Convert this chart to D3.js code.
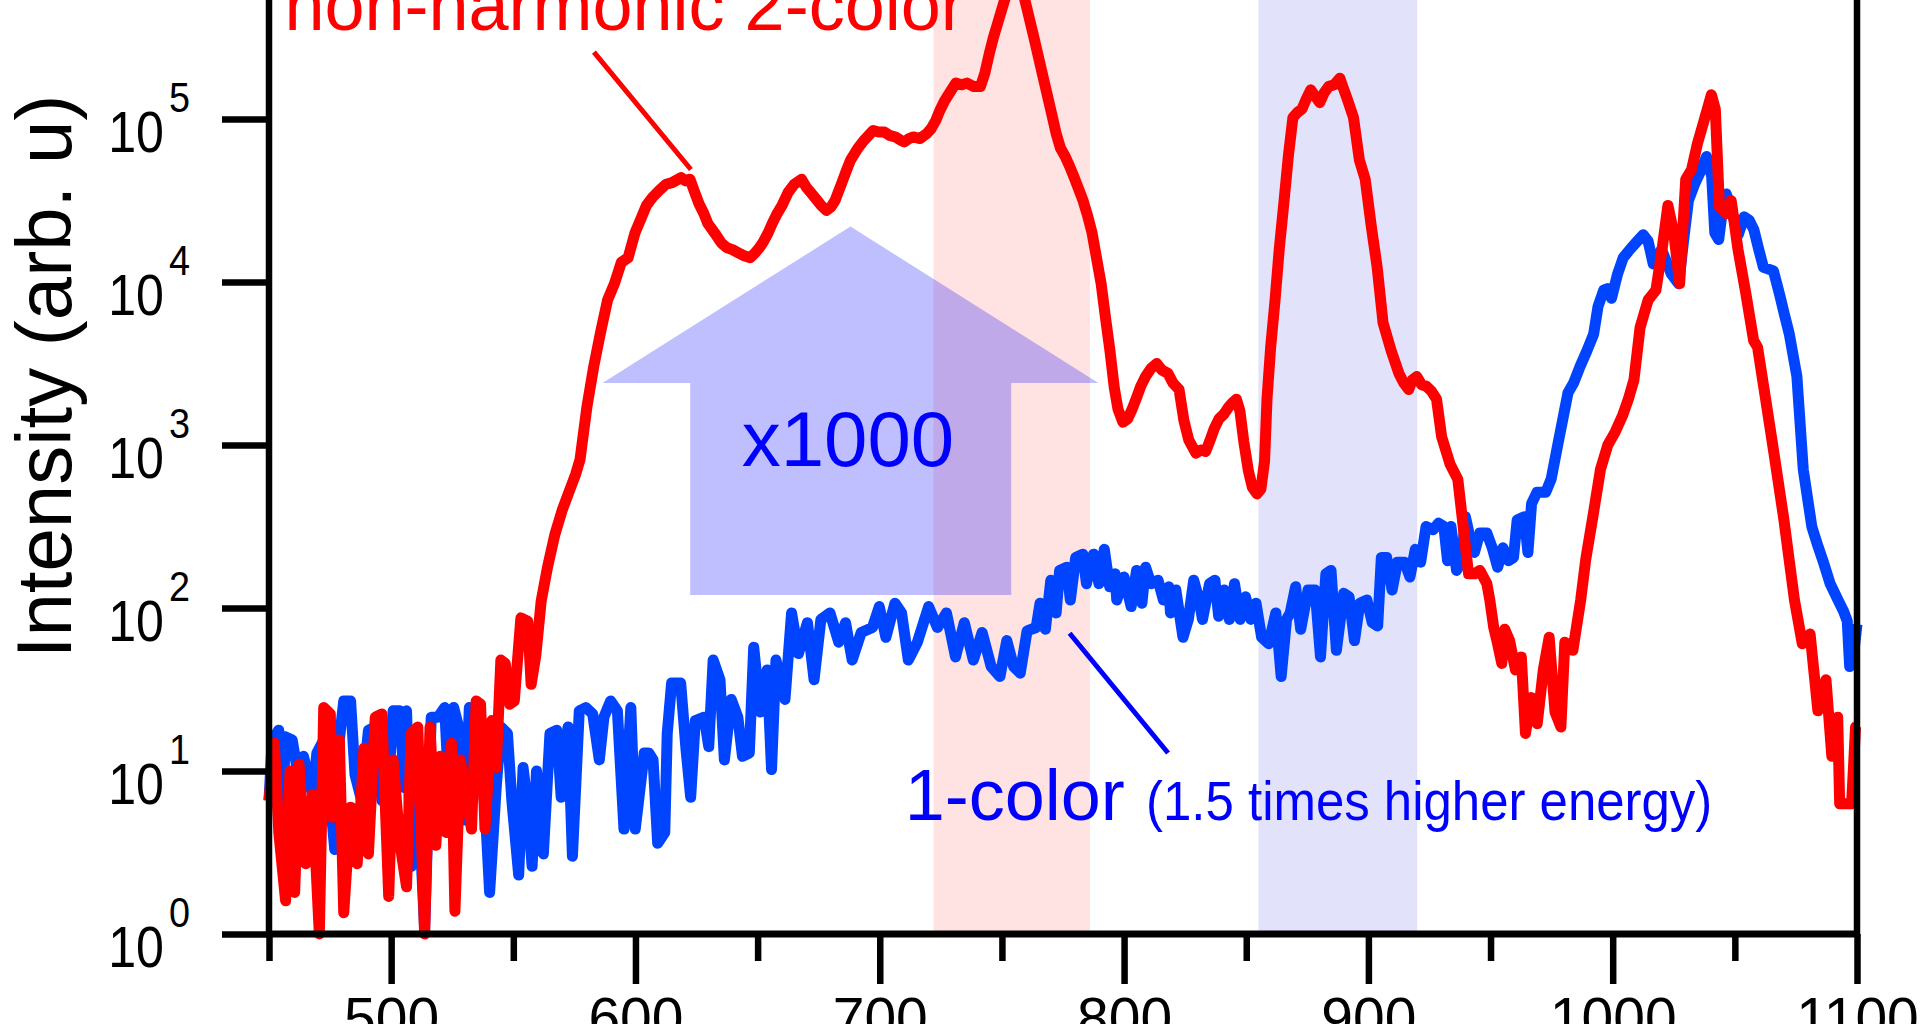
<!DOCTYPE html>
<html>
<head>
<meta charset="utf-8">
<script src="https://cdn.jsdelivr.net/npm/d3@7"></script>
<style>
  html, body { margin: 0; padding: 0; background: #ffffff; }
  svg { display: block; }
  text { font-family: "Liberation Sans", Arial, Helvetica, sans-serif; }
</style>
</head>
<body>
<svg id="chart" width="1920" height="1024"></svg>
<script>
// ---------------- DATA ----------------
// Photon energy axis (x) and intensity (arb. u, log scale) for the non-harmonic 2-color spectrum
const redX = [450,452.2,454,456.8,458.6,460.5,462.3,465,467.8,470.6,472.4,475.1,476,478.8,480.6,483.4,486.1,488.9,490.7,493.5,496.2,499,500.8,503.6,506.3,508.2,510.9,513.7,515.9,518.3,520.1,522.5,524.7,526.1,528.3,531.1,532.9,534.8,536.6,538.4,541.2,543,544.9,546.7,548.5,550.4,553.1,555.9,557.3,559.2,561.4,564,567,570,573,575.5,577.3,580.1,582.9,585.7,588.6,591.4,594.2,597,599.8,602,604.5,607,609.6,612.5,615,618.7,620.5,622.3,624,626,628,629.6,632.4,635.1,637.5,639.7,642,644.5,647,649,650.7,652.5,654.3,656,658,660,662.5,665,668,670,671.7,674.4,676,678.1,680,681.7,684.5,686.5,688.1,691,693.6,697.3,699.5,701.9,704,706.4,708.5,710.1,712,713.7,716.5,719.2,721,722.9,724.5,726.5,729,731.1,733.5,735.7,738.5,741.2,743,744.8,746.5,748.5,750.5,752.1,755.5,759.4,763.1,766.8,770.4,772.2,774,775.9,777.7,779.6,781.4,783.2,785,786.9,788.7,790.6,792.4,794.2,796,797.5,799.5,801.5,803.3,805.1,806.8,808.8,811,813.4,815.5,818,820,822.5,824.5,826.5,829.4,831.5,833.4,835,836.9,838.9,840.9,842.7,844.4,846,847.4,849,850.9,852.5,854.4,856,857.5,858.5,860,861.8,863.5,865.5,867.3,869.1,871,872.8,874.5,876.4,878.2,880.1,881.9,883.7,886,888.3,890,891.4,893.9,896.3,898.7,901.2,903.6,906,909.3,912.5,914.5,916.5,918,919.8,921.8,923.8,925.8,927.9,930,933.5,936.6,938.2,941,943.5,945.6,948.5,949.7,951.3,952.9,954.6,955.8,957.8,960.2,962.6,964.3,966.7,969.1,971.6,974,976.4,978.8,980.4,983.7,986.9,989,992,995,998,1001,1004,1006.4,1008.7,1011.2,1014.5,1017.7,1020.2,1022.6,1025,1027.4,1029.9,1032.3,1034.7,1037.2,1040.4,1042,1043.7,1046.4,1048.5,1051.3,1054.5,1057.7,1059.3,1062.6,1066,1070,1074.4,1077.6,1080.8,1084,1087.3,1089.7,1092.1,1092.9,1097.8,1099.4,1100];
const redY = [6.6,14.8,4.2,1.6,10,1.8,11,2.7,7.2,1,24.5,22.4,5.2,15.5,1.35,6.0,2.7,13.8,3.1,21.4,22.4,1.7,11.7,3.6,1.95,17,18.6,1,18.6,3.5,12.3,4.2,14.8,1.38,11.7,6.6,4.4,26.9,25.7,4.4,20.4,10.5,47.9,45.7,25.7,26.9,87,83,34,51,110,178,282,398,525,661,813,1700,3020,4900,7760,9770,13200,14100,20000,24000,29500,33100,36300,39800,40700,43700,41700,42700,36300,30200,26300,22900,20000,17400,16200,15800,15100,14500,14100,15100,16200,17800,20000,22900,26300,29500,35500,39800,42700,38000,35500,31600,29500,27500,28800,31600,40700,49000,56200,66100,74100,85100,83200,83200,79400,77600,74100,72400,75900,77600,75900,81300,87100,97700,112000,129000,148000,166000,162000,166000,158000,158000,191000,251000,316000,398000,501000,603000,891000,537000,316000,182000,107000,81300,66100,58900,51300,43700,37200,31600,25700,20000,14100,9770,6030,3800,2240,1660,1380,1450,1660,1950,2290,2630,2950,3160,2880,2750,2400,2190,1410,1070,891,933,912,1050,1260,1450,1550,1700,1820,1910,1620,1050,692,550,501,537,794,1910,3980,7760,15800,31600,60300,102000,110000,115000,132000,151000,138000,126000,145000,158000,162000,178000,151000,132000,102000,56200,42700,21900,12300,5620,3800,2750,2400,2190,2510,2630,2340,2290,2140,1910,1120,759,617,380,162,162,170,141,112,75.9,60.3,45.7,74.1,63,41.7,50.1,17,28.2,19.5,41.7,66.1,23,18.6,61.7,55,112,200,372,708,1000,1200,1510,1910,2510,5250,7760,8910,15800,29500,20000,9770,42700,49000,70800,95500,141000,115000,28800,26300,31600,15800,8510,4370,3980,1910,891,355,112,60.3,69.2,23.4,36.3,12.3,21.4,6.3,6.3,18.6,19];

// 1-color spectrum (1.5 times higher energy)
const blueX = [450,451.3,454,455,456.8,459.5,461.4,464.1,467.8,469.6,472.4,475.1,476.9,478.8,480.6,483.4,485.2,487.9,490.7,493.5,496.2,499,500.8,503.6,505.4,506.3,508.2,510.9,513.7,516.4,519.2,521.9,523.8,525.6,528.3,530.2,532,533.9,536.6,539,540.3,543,544.9,547.6,549.4,552.2,554,555.9,557.7,559.5,562.3,565,567.8,569.6,572.4,574.2,577,579.7,582.5,585.2,587.1,589.8,592.6,595.3,598.1,599.9,603.6,605.5,607.2,609.1,612,613,614.8,618.5,620.7,622.6,624.5,628.1,630,631.8,634.6,636.4,639.2,641.9,643.8,646.6,648.4,651.1,653.9,655.7,657.5,661.2,663.9,666.7,670.4,673.1,675.9,679.6,683.2,686,688.7,692.4,697,699.8,702.5,706.2,708.9,711.7,715.4,720,723.6,727.3,731,734.6,738.3,741.9,745.6,749.2,752,754.8,757.5,760.3,764,765.6,767.8,770,772.2,773.6,776.5,778,780.2,783.1,784.6,787.5,789.7,791.9,794.1,796.3,797,800,802.9,805.1,807.3,808.8,811,813.9,816.1,818.3,819,821.2,824.1,826.3,828.5,830.7,832.1,835,837.2,838.7,840.9,843.1,845.2,847.5,849.7,851.9,854,856.3,859.2,862.1,864.3,866.5,868,870.2,872.3,875.3,878.2,880.4,882.6,884.7,886.9,889.9,892.1,894.3,896.5,899.4,901.6,903.8,905.3,907.5,909.7,911.9,914.8,917,919.2,921.4,923.6,926.5,928.7,930.9,932.4,933.8,936.1,938.2,939.7,941.2,943.4,945.6,948.5,950.7,952.9,955.1,957.3,959.4,960.9,963.8,965.3,966.8,969,972.6,974.8,977.5,981.7,984,986.6,989.5,992.2,994,996.3,998,999.5,1002,1004.3,1007,1009.5,1012.5,1014.5,1016.6,1020,1024,1027,1029,1031,1033.5,1036,1038.4,1040.5,1041.8,1043.4,1045,1046.5,1049,1051.4,1053.8,1055.8,1057.8,1059.8,1061.7,1063.8,1065.8,1068.2,1070.3,1072.3,1075.4,1078,1081.5,1084,1086.5,1089,1092.2,1094.5,1096,1097,1098.5,1100];
const blueY = [6.6,15.5,17.8,4.2,16.2,15.5,10.5,12.3,7.2,12.9,15.5,6.6,3.3,15.5,26.9,26.9,9.5,6.6,17.8,18.6,6.6,8.7,23.4,23.4,7.9,23.4,2.6,7.9,1.07,21.4,21.4,24.5,6.6,24.5,17,5,24.5,7.9,14.1,4.2,1.8,7.9,18.6,17,6.6,2.3,10.5,6.0,2.6,10,3.1,17,17.8,6.9,18.6,3.0,23.4,24.5,22.4,11.7,21.4,26.9,23.4,4.4,24.5,4.4,12.9,12.9,11.7,3.6,4.2,17,34.7,34.7,13.5,6.9,20.4,21.4,14.1,47.9,36.3,11.7,27.5,21.4,12.3,12.9,57.5,23,41.7,10.2,47.9,27.5,93.3,52.5,81.3,36.3,85.1,93.3,61.7,81.3,47.9,70.8,75.9,102,66.1,107,93.3,47.9,61.7,102,75.9,93.3,50.1,81.3,47.9,70.8,43.7,38,63.1,43.7,39.8,72.4,75.9,107,74.1,148,93.3,170,178,112,204,214,141,214,141,229,135,162,112,155,102,170,107,178,141,148,112,135,93.3,129,66.1,85.1,148,112,85.1,141,148,89.1,129,85.1,141,85.1,117,85.1,107,66.1,60.3,93.3,38,85.1,93.3,135,74.1,129,129,50.1,162,170,55,123,117,63.1,107,112,81.3,77.6,204,204,129,191,191,155,229,191,316,302,331,316,195,316,170,195,363,288,219,288,288,234,178,234,195,204,347,363,219,437,513,513,617,1000,2090,2400,3020,3800,4790,7080,8910,9120,7940,11200,14100,15800,17400,19500,17800,12900,15800,11200,9770,17800,31600,39800,47900,58900,44700,20000,18200,28200,34700,26300,19500,25100,24000,20900,15800,12300,12000,11700,8510,6310,4790,2630,708,316,240,186,141,112,95.5,83.2,43.7,50.1,79.4];

// Axis ticks and labels
const xMajorTicks = [500, 600, 700, 800, 900, 1000, 1100];
const xMinorTicks = [450, 550, 650, 750, 850, 950, 1050];
const yTickExponents = [0, 1, 2, 3, 4, 5];
const yTitle = "Intensity (arb. u)";

// Highlighted energy windows
const pinkBand = [722, 786];
const blueBand = [855, 920];

// Annotations (in data coordinates: [x, intensity])
const redLabel = { text: "non-harmonic 2-color", x: 456.3, y: 351000 };
const redPointer = [[583, 257000], [622.7, 49000]];
const blueLabel = { text: "1-color", x: 710.2, y: 5.0 };
const blueLabelSmall = { text: "(1.5 times higher energy)", x: 809, y: 5.0 };
const bluePointer = [[777.7, 70], [818, 12.9]];
const arrowTip = [688, 21900];
const arrowHead = [586.5, 789.5, 2400];   // left x, right x, base intensity
const arrowShaft = [622.4, 753.8, 120];   // left x, right x, bottom intensity
const arrowText = { text: "x1000", x: 687, y: 741 };

// ---------------- DRAWING ----------------
const svg = d3.select("#chart");
svg.append("rect").attr("width", 1920).attr("height", 1024).attr("fill", "#ffffff");

const x = d3.scaleLinear().domain([450, 1100]).range([269, 1857]);
const y = d3.scaleLog().domain([1, 1e5]).range([934, 119]);
const yTop = -10;

// condensed-looking text helper (original figure font is slightly narrow)
function squeezedText(px, py, str, size, sx, color, anchor) {
  return svg.append("text")
    .attr("transform", `translate(${px},${py}) scale(${sx},1)`)
    .attr("text-anchor", anchor || "start")
    .attr("font-size", size).attr("fill", color)
    .text(str);
}

// bands
[[pinkBand, "#ffe2e2"], [blueBand, "#e2e2fa"]].forEach(([b, c]) => {
  svg.append("rect")
    .attr("x", x(b[0])).attr("width", x(b[1]) - x(b[0]))
    .attr("y", yTop).attr("height", y(1) - yTop)
    .attr("fill", c);
});

// big arrow
const arrowPts = [
  [x(arrowTip[0]), y(arrowTip[1])],
  [x(arrowHead[1]), y(arrowHead[2])],
  [x(arrowShaft[1]), y(arrowHead[2])],
  [x(arrowShaft[1]), y(arrowShaft[2])],
  [x(arrowShaft[0]), y(arrowShaft[2])],
  [x(arrowShaft[0]), y(arrowHead[2])],
  [x(arrowHead[0]), y(arrowHead[2])]
];
svg.append("polygon")
  .attr("points", arrowPts.map(p => p.join(",")).join(" "))
  .attr("fill", "rgba(0,0,255,0.25)");

svg.append("text")
  .attr("x", x(arrowText.x)).attr("y", y(arrowText.y))
  .attr("text-anchor", "middle")
  .attr("font-size", 78).attr("fill", "#0000ff")
  .text(arrowText.text);

// curves
const line = d3.line().x(d => x(d[0])).y(d => y(d[1]));
const blueData = blueX.map((v, i) => [v, blueY[i]]);
const redData = redX.map((v, i) => [v, redY[i]]);

svg.append("path").datum(blueData)
  .attr("d", line).attr("fill", "none")
  .attr("stroke", "#0044ff").attr("stroke-width", 11)
  .attr("stroke-linejoin", "round");
svg.append("path").datum(redData)
  .attr("d", line).attr("fill", "none")
  .attr("stroke", "#ff0000").attr("stroke-width", 11)
  .attr("stroke-linejoin", "round");

// axes
const axisW = 6.5;
// y ticks
const yAxis = svg.append("g").attr("transform", `translate(${x(450)},0)`)
  .call(d3.axisLeft(y).tickValues(yTickExponents.map(e => Math.pow(10, e))).tickSize(47).tickFormat(""));
yAxis.select(".domain").remove();
yAxis.selectAll(".tick line").attr("stroke", "#000").attr("stroke-width", axisW);

// y tick labels with exponent
yTickExponents.forEach(e => {
  const ty = y(Math.pow(10, e));
  squeezedText(164, ty + 33, "10", 57, 0.88, "#000", "end");
  squeezedText(169, ty - 7, String(e), 42, 0.9, "#000", "start");
});

// x ticks
const xAxisMajor = svg.append("g").attr("transform", `translate(0,${y(1)})`)
  .call(d3.axisBottom(x).tickValues(xMajorTicks).tickSize(50).tickPadding(14).tickFormat(d3.format("d")));
xAxisMajor.select(".domain").remove();
xAxisMajor.selectAll(".tick line").attr("stroke", "#000").attr("stroke-width", axisW);
xAxisMajor.selectAll(".tick text")
  .attr("font-size", 57).attr("fill", "#000")
  .attr("font-family", "'Liberation Sans', Arial, sans-serif");

const xAxisMinor = svg.append("g").attr("transform", `translate(0,${y(1)})`)
  .call(d3.axisBottom(x).tickValues(xMinorTicks).tickSize(27).tickFormat(""));
xAxisMinor.select(".domain").remove();
xAxisMinor.selectAll(".tick line").attr("stroke", "#000").attr("stroke-width", axisW);

// axis lines (left, bottom, right)
svg.append("line").attr("x1", x(450)).attr("x2", x(450)).attr("y1", y(1) + 3).attr("y2", yTop)
  .attr("stroke", "#000").attr("stroke-width", axisW);
svg.append("line").attr("x1", x(1100)).attr("x2", x(1100)).attr("y1", y(1) + 3).attr("y2", yTop)
  .attr("stroke", "#000").attr("stroke-width", axisW);
svg.append("line").attr("x1", x(450) - 3).attr("x2", x(1100) + 3).attr("y1", y(1)).attr("y2", y(1))
  .attr("stroke", "#000").attr("stroke-width", 7);

// y title
svg.append("text")
  .attr("transform", `translate(71,${(y(1e5) + y(1)) / 2 - 150}) rotate(-90)`)
  .attr("text-anchor", "middle").attr("font-size", 78).attr("fill", "#000")
  .text(yTitle);

// annotations
svg.append("text").attr("x", x(redLabel.x)).attr("y", y(redLabel.y))
  .attr("font-size", 72).attr("fill", "#ff0000").text(redLabel.text);
svg.append("line")
  .attr("x1", x(redPointer[0][0])).attr("y1", y(redPointer[0][1]))
  .attr("x2", x(redPointer[1][0])).attr("y2", y(redPointer[1][1]))
  .attr("stroke", "#ff0000").attr("stroke-width", 5);

svg.append("text").attr("x", x(blueLabel.x)).attr("y", y(blueLabel.y))
  .attr("font-size", 72).attr("fill", "#0000ff").text(blueLabel.text);
squeezedText(x(blueLabelSmall.x), y(blueLabelSmall.y), blueLabelSmall.text, 56, 0.91, "#0000ff", "start");
svg.append("line")
  .attr("x1", x(bluePointer[0][0])).attr("y1", y(bluePointer[0][1]))
  .attr("x2", x(bluePointer[1][0])).attr("y2", y(bluePointer[1][1]))
  .attr("stroke", "#0000ff").attr("stroke-width", 5);
</script>
</body>
</html>
